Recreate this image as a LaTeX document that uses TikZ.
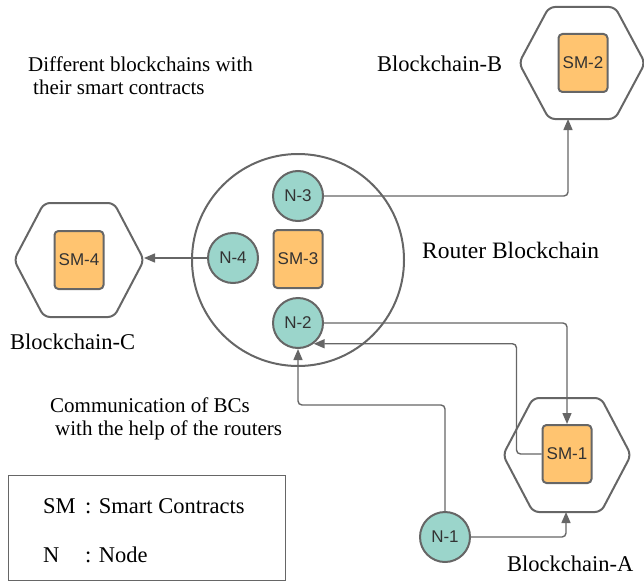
\documentclass[tikz,border=0pt]{standalone}
\usepackage{fontspec}
\setmainfont{Liberation Serif}
\newfontfamily\nodefont{Liberation Sans}
\usetikzlibrary{arrows.meta}
\definecolor{nodeteal}{RGB}{155,213,203}
\definecolor{smorange}{RGB}{255,196,112}
\definecolor{edgegray}{RGB}{102,102,102}
\definecolor{txtgray}{RGB}{51,51,51}
\tikzset{
  bnode/.style={circle, draw=edgegray, fill=nodeteal, line width=2pt, minimum size=50pt, inner sep=0pt,
    font=\nodefont\fontsize{17}{17}\selectfont, text=txtgray},
  smbox/.style={rectangle, rounded corners=4pt, draw=edgegray, fill=smorange, line width=2pt,
    minimum width=49pt, minimum height=58pt, inner sep=0pt, font=\nodefont\fontsize{17}{17}\selectfont, text=txtgray},
  hexshape/.style={draw=edgegray, line width=2pt, rounded corners=6pt},
  conn/.style={draw=edgegray, line width=1.4pt, rounded corners=4pt},
  arr/.style={conn, -{Triangle[length=11pt,width=9pt]}},
  lbl/.style={anchor=base west, inner sep=0pt, text=black},
}
\begin{document}
\begin{tikzpicture}[x=1pt,y=-1pt]
\useasboundingbox (0,0) rectangle (644,583);
% router blockchain
\node[circle, draw=edgegray, line width=2pt, minimum size=212pt, inner sep=0pt] (router) at (298,260) {};
\node[bnode] (n3) at (298,196) {N-3};
\node[bnode] (n4) at (233,258) {N-4};
\node[bnode] (n2) at (298,323) {N-2};
\node[smbox] (sm3) at (298,259) {SM-3};
% hexagons
\draw[hexshape] (519,63) -- (549,7) -- (615,7) -- (645,63) -- (615,119) -- (549,119) -- cycle;
\draw[hexshape] (14,260) -- (44,203) -- (114,203) -- (144,260) -- (114,317) -- (44,317) -- cycle;
\draw[hexshape] (503,455) -- (533,398) -- (601,398) -- (631,455) -- (601,512) -- (533,512) -- cycle;
\coordinate (hexBs) at (568,119);
\coordinate (hexCe) at (144,258);
\coordinate (hexAs) at (566,512);
\node[smbox] (sm2) at (583,63) {SM-2};
\node[smbox] (sm4) at (79,260) {SM-4};
\node[smbox] (sm1) at (567,454) {SM-1};
\node[bnode] (n1) at (445,537) {N-1};
% connectors
\draw[arr] (n3.east) -| (hexBs);
\draw[arr] (n4.west) -- (hexCe);
\draw[arr] (n2.east) -| (sm1.north);
\draw[arr] (sm1.west) -- ++(-25,0) |- (n2.-53);
\draw[arr] (n1.north) -- ++(0,-106) -| (n2.south);
\draw[arr] (n1.east) -| (hexAs);
% labels
\node[lbl, font=\fontsize{21}{21}\selectfont] (t1) at (28,72) {Different blockchains with};
\node[lbl, font=\fontsize{21}{21}\selectfont] (t2) at (33,95) {their smart contracts};
\node[lbl, font=\fontsize{22.5}{22.5}\selectfont] (lb) at (377,72) {Blockchain-B};
\node[lbl, font=\fontsize{23.5}{23.5}\selectfont] (lr) at (422,258) {Router Blockchain};
\node[lbl, font=\fontsize{22.5}{22.5}\selectfont] (lc) at (10,349) {Blockchain-C};
\node[lbl, font=\fontsize{21}{21}\selectfont] (t3) at (50,412) {Communication of BCs};
\node[lbl, font=\fontsize{21}{21}\selectfont] (t4) at (55,435) {with the help of the routers};
\node[lbl, font=\fontsize{22.5}{22.5}\selectfont] (la) at (507,571) {Blockchain-A};
% legend
\node[draw=edgegray, line width=1pt, minimum width=277pt, minimum height=105pt, inner sep=0pt] (legend) at (146.5,527.5) {};
\node[lbl, font=\fontsize{22.5}{22.5}\selectfont] (k1) at (43,513) {SM};
\node[lbl, font=\fontsize{22.5}{22.5}\selectfont] (k1b) at (85,513) {: Smart Contracts};
\node[lbl, font=\fontsize{22.5}{22.5}\selectfont] (k2) at (43,562) {N};
\node[lbl, font=\fontsize{22.5}{22.5}\selectfont] (k2b) at (85,562) {: Node};
\end{tikzpicture}
\end{document}
